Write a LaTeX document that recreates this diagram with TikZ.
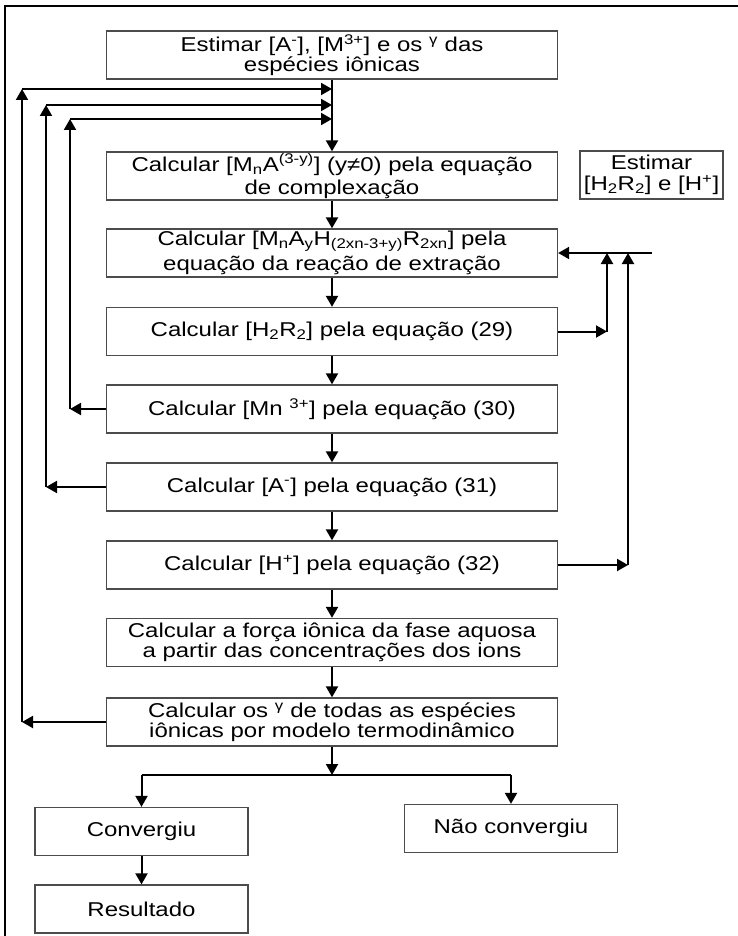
\documentclass[tikz,border=0pt]{standalone}
\usepackage{fontspec}
\setmainfont[FakeStretch=1.2]{Liberation Sans}
\usepackage{tikz}
\usetikzlibrary{arrows.meta,positioning,calc}

\begin{document}
\begin{tikzpicture}[x=1pt,y=-1pt,
    box/.style={draw=black!70,line width=1.3pt,minimum width=451pt,minimum height=48pt,
      inner sep=0pt,align=center,font=\fontsize{20}{18}\selectfont},
    sbox/.style={box,minimum width=213pt},
    flow/.style={-{Triangle[length=11pt,width=12pt]},line width=2pt}]
      \useasboundingbox (0,0) rectangle (737,936);
      \draw[line width=1.5pt] (5,6) rectangle (750,950);
      % main column
      \node[box] (est) at (332,55) {Estimar [A\textsuperscript{-}], [M\textsuperscript{3+}] e os \textsuperscript{γ} das\\espécies iônicas};
      \node[box] (cmplx) at (332,176) {Calcular [M\textsubscript{n}A\textsuperscript{(3-y)}] (y≠0) pela equação\\[3pt]de complexação};
      \node[box,minimum width=143pt] (esth) at (651.5,175) {Estimar\\[3pt]{[}H\textsubscript{2}R\textsubscript{2}] e [H\textsuperscript{+}]};
      \node[box] (extr) at (332,253) {Calcular [M\textsubscript{n}A\textsubscript{y}H\textsubscript{(2xn-3+y)}R\textsubscript{2xn}] pela\\[4pt]equação da reação de extração};
      \node[box] (eqh2r) at (332,331.5) {Calcular [H\textsubscript{2}R\textsubscript{2}] pela equação (29)};
      \node[box] (eqmn) at (332,409) {Calcular [Mn \textsuperscript{3+}] pela equação (30)};
      \node[box] (eqa) at (332,487) {Calcular [A\textsuperscript{-}] pela equação (31)};
      \node[box] (eqh) at (332,565) {Calcular [H\textsuperscript{+}] pela equação (32)};
      \node[box] (forca) at (332,642.5) {Calcular a força iônica da fase aquosa\\a partir das concentrações dos ions};
      \node[box] (gama) at (332,722) {Calcular os \textsuperscript{γ} de todas as espécies\\iônicas por modelo termodinâmico};
      \node[sbox] (conv) at (141.5,831.5) {Convergiu};
      \node[sbox] (nconv) at (511,828.5) {Não convergiu};
      \node[sbox] (res) at (141.5,909) {Resultado};
      \foreach \a/\b in {est/cmplx,cmplx/extr,extr/eqh2r,eqh2r/eqmn,eqmn/eqa,eqa/eqh,eqh/forca,forca/gama,conv/res}{
        \draw[flow] (\a) -- (\b);
      }
      % loops back to the top
      \foreach \src/\xx/\yy in {gama/22/89,eqa/46/105,eqmn/70/119}{
        \coordinate (j\src) at (332,\yy);
        \coordinate (c\src) at (\src.west -| \xx,0);
        \coordinate (t\src) at (\xx,\yy);
        \draw[flow] (\src.west) -- (c\src);
        \draw[flow] (c\src) -- (t\src);
        \draw[flow] (t\src) -- (j\src);
      }
      % loops on the right
      \coordinate (rin) at (652,253);
      \draw[flow] (rin) -- (extr.east);
      \foreach \src/\xx in {eqh2r/607,eqh/628}{
        \coordinate (c\src) at (\src.east -| \xx,0);
        \coordinate (t\src) at (extr.east -| \xx,0);
        \draw[flow] (\src.east) -- (c\src);
        \draw[flow] (c\src) -- (t\src);
      }
      % branch
      \coordinate (br) at (332,775);
      \draw[flow] (gama) -- (br);
      \draw[line width=2pt] (conv.north |- br) -- (nconv.north |- br);
      \draw[flow] (conv.north |- br) -- (conv.north);
      \draw[flow] (nconv.north |- br) -- (nconv.north);
    \end{tikzpicture}
\end{document}
